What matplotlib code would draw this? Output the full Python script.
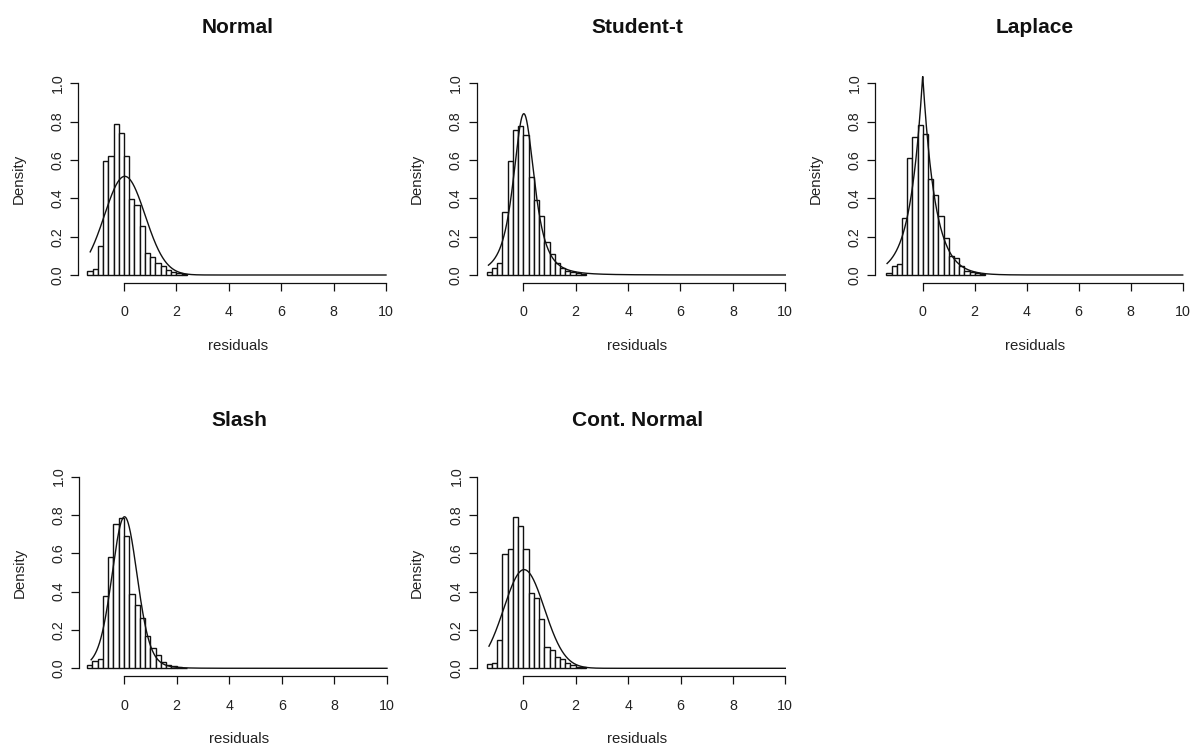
import math
import numpy as np
import matplotlib
matplotlib.use("Agg")
import matplotlib.pyplot as plt

plt.rcParams['font.family'] = ['Liberation Sans', 'DejaVu Sans']

# ---------------- data ----------------
titles = ["Normal", "Student-t", "Laplace", "Slash", "Cont. Normal"]
bin_start = -1.4
bin_width = 0.2

dens_normal = [0.022, 0.03, 0.15, 0.595, 0.62, 0.79, 0.74, 0.62, 0.395, 0.365,
               0.257, 0.113, 0.096, 0.06, 0.047, 0.026, 0.017, 0.008, 0.005]
dens_student = [0.017, 0.035, 0.06, 0.33, 0.595, 0.755, 0.776, 0.73, 0.51, 0.39,
                0.31, 0.17, 0.11, 0.06, 0.035, 0.022, 0.015, 0.01, 0.005]
dens_laplace = [0.01, 0.047, 0.056, 0.296, 0.61, 0.72, 0.785, 0.735, 0.5, 0.415,
                0.31, 0.195, 0.1, 0.09, 0.045, 0.02, 0.015, 0.01, 0.005]
dens_slash = [0.018, 0.04, 0.05, 0.375, 0.58, 0.755, 0.785, 0.69, 0.39, 0.33,
              0.26, 0.167, 0.105, 0.07, 0.035, 0.018, 0.01, 0.005, 0.003]
dens_contnormal = [0.022, 0.03, 0.15, 0.595, 0.62, 0.79, 0.74, 0.62, 0.395, 0.365,
                   0.257, 0.113, 0.096, 0.06, 0.047, 0.026, 0.017, 0.008, 0.005]
hist_values = [dens_normal, dens_student, dens_laplace, dens_slash, dens_contnormal]

# smallest residual in each panel (curve start, x-range start)
resid_min = [-1.29, -1.33, -1.37, -1.25, -1.31]
resid_max_axis = 10

# fitted density parameters (location, scale, shape)
fit_normal = (0.03, 0.775)
fit_student = (0.02, 0.43, 2.5)
fit_laplace = (0.0, 0.48)
fit_slash = (0.02, 0.404, 2.0)
fit_contnormal = (0.03, 0.775)

xticks = [0, 2, 4, 6, 8, 10]
yticks = [0.0, 0.2, 0.4, 0.6, 0.8, 1.0]
ytick_labels = ["0.0", "0.2", "0.4", "0.6", "0.8", "1.0"]


# ---------------- densities ----------------
def pdf_normal(x, mu, sd):
    return np.exp(-0.5 * ((x - mu) / sd) ** 2) / (sd * math.sqrt(2 * math.pi))


def pdf_student(x, mu, s, nu):
    c = math.gamma((nu + 1) / 2) / (math.gamma(nu / 2) * math.sqrt(nu * math.pi) * s)
    z = (x - mu) / s
    return c * (1 + z ** 2 / nu) ** (-(nu + 1) / 2)


def pdf_laplace(x, mu, b):
    return np.exp(-np.abs(x - mu) / b) / (2 * b)


def pdf_slash(x, mu, s, nu):
    u = np.linspace(1e-6, 1, 2000)
    du = u[1] - u[0]
    z2 = ((x[:, None] - mu) / s) ** 2
    integrand = nu * u ** (nu - 1) * np.sqrt(u) / (s * math.sqrt(2 * math.pi)) * np.exp(-0.5 * u * z2)
    return integrand.sum(axis=1) * du


curve_funcs = [
    lambda x: pdf_normal(x, *fit_normal),
    lambda x: pdf_student(x, *fit_student),
    lambda x: pdf_laplace(x, *fit_laplace),
    lambda x: pdf_slash(x, *fit_slash),
    lambda x: pdf_normal(x, *fit_contnormal),
]

# ---------------- layout (pixels) ----------------
W, H = 1192, 746
DPI = 100
fig = plt.figure(figsize=(W / DPI, H / DPI), dpi=DPI)

# pixel position of x=0, pixels per x unit, pixel row of y=0
x0_px = [124.0, 523.3, 922.7, 124.0, 523.3]
ppu_x = [26.2, 26.2, 26.0, 26.3, 26.2]
y0_px = [275.0, 275.0, 275.0, 668.3, 668.3]
ppu_y = 191.7

for i in range(5):
    a = resid_min[i]
    rng = resid_max_axis - a
    xmin, xmax = a - 0.04 * rng, resid_max_axis + 0.04 * rng
    ymin, ymax = -0.04, 1.04
    left_px = x0_px[i] + xmin * ppu_x[i]
    width_px = (xmax - xmin) * ppu_x[i]
    bottom_px = y0_px[i] - ymin * ppu_y
    height_px = (ymax - ymin) * ppu_y
    ax = fig.add_axes([left_px / W, 1 - bottom_px / H, width_px / W, height_px / H])
    ax.set_xlim(xmin, xmax)
    ax.set_ylim(ymin, ymax)

    vals = np.array(hist_values[i])
    edges = bin_start + bin_width * np.arange(len(vals) + 1)
    ax.bar(edges[:-1], vals, width=bin_width, align='edge', facecolor='white',
           edgecolor='#111111', linewidth=1.0, zorder=2)

    xs = np.linspace(a, resid_max_axis, 1500)
    ax.plot(xs, curve_funcs[i](xs), color='#111111', linewidth=1.0, zorder=3)

    for side in ('top', 'right'):
        ax.spines[side].set_visible(False)
    ax.spines['left'].set_bounds(0, 1)
    ax.spines['bottom'].set_bounds(0, 10)
    ax.spines['left'].set_linewidth(0.9)
    ax.spines['bottom'].set_linewidth(0.9)
    ax.spines['left'].set_color('#111111')
    ax.spines['bottom'].set_color('#111111')

    ax.set_xticks(xticks)
    ax.set_xticklabels([str(t) for t in xticks])
    ax.set_yticks(yticks)
    ax.set_yticklabels(ytick_labels)
    ax.tick_params(axis='both', direction='out', length=5.8, width=0.9,
                   labelsize=10.3, colors='#111111', labelcolor='#222222')
    ax.tick_params(axis='x', pad=10.5)
    ax.tick_params(axis='y', pad=4)
    for lbl in ax.get_yticklabels():
        lbl.set_rotation(90)
        lbl.set_va('center')
        lbl.set_ha('right')

    ax.set_xlabel("residuals", fontsize=10.8, color='#222222')
    ax.xaxis.set_label_coords(0.5, -63.4 / height_px)
    ax.xaxis.label.set_va('center')
    ax.set_ylabel("Density", fontsize=10.8, color='#222222')
    ax.yaxis.set_label_coords(-60.0 / width_px, 0.5)
    ax.yaxis.label.set_va('center')

    ax.set_title(titles[i], fontsize=15, fontweight='bold', color='#111111',
                 y=1 + 48.0 / height_px, va='center', pad=0)

fig.savefig("out.png", dpi=DPI)
